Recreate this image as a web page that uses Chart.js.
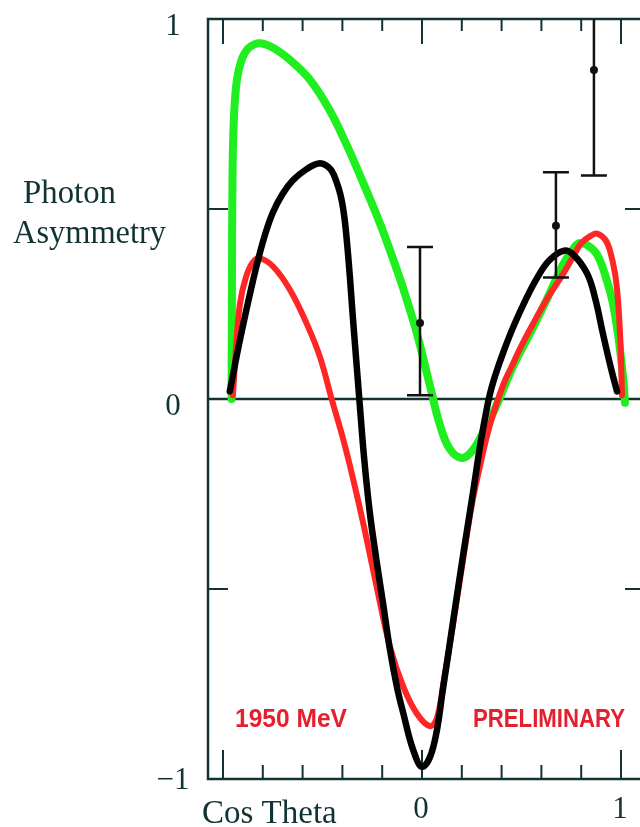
<!DOCTYPE html>
<html>
<head>
<meta charset="utf-8">
<script src="https://cdn.jsdelivr.net/npm/chart.js@4.4.1/dist/chart.umd.min.js"></script>
<style>
  html, body { margin: 0; padding: 0; background: #fff; overflow: hidden; }
  #wrap { width: 640px; height: 827px; overflow: hidden; }
</style>
</head>
<body>
<div id="wrap"><canvas id="asym" width="660" height="827"></canvas></div>
<script>
// curves (cos theta, asymmetry)
const greenCurve = [
  [-0.957, 0.0], [-0.955, 0.3], [-0.952, 0.6], [-0.945, 0.74], [-0.93, 0.84], [-0.905, 0.895],
  [-0.875, 0.922], [-0.84, 0.934], [-0.81, 0.936], [-0.77, 0.93], [-0.72, 0.915], [-0.663, 0.892],
  [-0.563, 0.84], [-0.462, 0.758], [-0.378, 0.668], [-0.295, 0.568], [-0.211, 0.462], [-0.152, 0.378],
  [-0.094, 0.29], [-0.027, 0.175], [0.04, 0.035], [0.09, -0.068], [0.14, -0.132], [0.20, -0.155],
  [0.25, -0.138], [0.30, -0.095], [0.357, -0.037], [0.40, 0.015], [0.457, 0.085], [0.55, 0.18],
  [0.63, 0.265], [0.71, 0.355], [0.76, 0.395], [0.79, 0.41], [0.83, 0.405], [0.88, 0.38],
  [0.93, 0.31], [0.96, 0.25], [0.99, 0.15], [1.01, 0.06], [1.02, -0.01]
];
const redCurve = [
  [-0.95, 0.01], [-0.935, 0.13], [-0.915, 0.25], [-0.885, 0.32], [-0.85, 0.36], [-0.814, 0.37],
  [-0.747, 0.348], [-0.663, 0.287], [-0.58, 0.199], [-0.513, 0.111], [-0.454, 0.0], [-0.395, -0.108],
  [-0.345, -0.213], [-0.29, -0.34], [-0.228, -0.494], [-0.161, -0.652], [-0.094, -0.757], [-0.027, -0.827],
  [0.04, -0.861], [0.075, -0.84], [0.11, -0.74], [0.16, -0.58], [0.21, -0.41], [0.25, -0.28],
  [0.29, -0.18], [0.33, -0.09], [0.37, -0.02], [0.41, 0.04], [0.45, 0.085], [0.49, 0.13],
  [0.55, 0.19], [0.63, 0.265], [0.71, 0.33], [0.76, 0.375], [0.80, 0.41], [0.85, 0.43],
  [0.88, 0.435], [0.92, 0.42], [0.945, 0.39], [0.97, 0.33], [0.985, 0.26], [0.997, 0.15],
  [1.005, 0.01]
];
const blackCurve = [
  [-0.966, 0.02], [-0.915, 0.155], [-0.85, 0.31], [-0.797, 0.418], [-0.75, 0.49], [-0.70, 0.54],
  [-0.65, 0.575], [-0.58, 0.605], [-0.518, 0.62], [-0.47, 0.61], [-0.443, 0.59], [-0.404, 0.524],
  [-0.378, 0.418], [-0.345, 0.199], [-0.315, 0.0], [-0.29, -0.16], [-0.262, -0.30], [-0.23, -0.42],
  [-0.195, -0.54], [-0.161, -0.66], [-0.125, -0.76], [-0.094, -0.827], [-0.044, -0.924], [0.003, -0.968],
  [0.057, -0.915], [0.107, -0.757], [0.157, -0.582], [0.208, -0.406], [0.258, -0.24], [0.291, -0.126],
  [0.315, -0.055], [0.34, 0.01], [0.37, 0.065], [0.41, 0.125], [0.459, 0.19], [0.52, 0.26],
  [0.58, 0.32], [0.64, 0.365], [0.71, 0.39], [0.76, 0.38], [0.83, 0.33], [0.87, 0.265],
  [0.91, 0.17], [0.95, 0.08], [0.98, 0.02]
];

// measured points with error bars
const dataX = [-0.01, 0.673, 0.864];
const dataY = [0.20, 0.456, 0.866];
const dataLow = [0.01, 0.32, 0.588];
const dataHigh = [0.40, 0.597, 1.144];

// axis ticks and labels
const xMajor = [-1, 0, 1];
const xMinor = [-0.8, -0.6, -0.4, -0.2, 0.2, 0.4, 0.6, 0.8];
const xLabels = [[0, '0'], [1, '1']];
const yMid = [-0.5, 0.5];
const yLabels = [[1, '1'], [0, '0'], [-1, '\u22121']];

const ink = '#113333';
const toXY = arr => arr.map(p => ({ x: p[0], y: p[1] }));

const framePlugin = {
  id: 'frame',
  beforeDatasetsDraw(chart) {
    const { ctx, chartArea: a, scales: { x, y } } = chart;
    ctx.save();
    ctx.strokeStyle = ink;
    ctx.lineWidth = 2.5;
    ctx.beginPath();
    ctx.moveTo(a.right, a.top); ctx.lineTo(a.left, a.top);
    ctx.lineTo(a.left, a.bottom); ctx.lineTo(a.right, a.bottom);
    ctx.stroke();
    // zero line
    ctx.beginPath();
    ctx.moveTo(a.left, y.getPixelForValue(0));
    ctx.lineTo(a.right, y.getPixelForValue(0));
    ctx.stroke();
    ctx.lineWidth = 2;
    ctx.beginPath();
    xMajor.forEach(v => {
      const px = x.getPixelForValue(v);
      ctx.moveTo(px, a.bottom); ctx.lineTo(px, a.bottom - 29);
      ctx.moveTo(px, a.top); ctx.lineTo(px, a.top + 25);
    });
    xMinor.forEach(v => {
      const px = x.getPixelForValue(v);
      ctx.moveTo(px, a.bottom); ctx.lineTo(px, a.bottom - 14);
      ctx.moveTo(px, a.top); ctx.lineTo(px, a.top + 12);
    });
    yMid.forEach(v => {
      const py = y.getPixelForValue(v);
      ctx.moveTo(a.left, py); ctx.lineTo(a.left + 20, py);
      ctx.moveTo(a.right, py); ctx.lineTo(a.right - 20, py);
    });
    ctx.stroke();

    // tick labels
    ctx.fillStyle = ink;
    ctx.font = '31px "Liberation Serif", "DejaVu Serif", serif';
    ctx.textAlign = 'center';
    ctx.textBaseline = 'middle';
    yLabels.forEach(([v, t]) => {
      ctx.fillText(t, 173, Math.min(y.getPixelForValue(v) + 8, 781));
    });
    xLabels.forEach(([v, t]) => {
      ctx.fillText(t, x.getPixelForValue(v) - 1, 810);
    });
    ctx.font = '33px "Liberation Serif", "DejaVu Serif", serif';
    ctx.textAlign = 'left';
    ctx.textBaseline = 'alphabetic';
    ctx.fillText('Photon', 23, 203, 93);
    ctx.fillText('Asymmetry', 13, 243, 153);
    ctx.fillText('Cos Theta', 202, 823, 136);

    ctx.fillStyle = '#e5202e';
    ctx.font = 'bold 25px "Liberation Sans", Arial, sans-serif';
    ctx.fillText('1950 MeV', 235, 727, 112);
    ctx.fillText('PRELIMINARY', 473, 727, 152);
    ctx.restore();
  },
  afterDatasetsDraw(chart) {
    const { ctx, chartArea: a, scales: { x, y } } = chart;
    ctx.save();
    ctx.beginPath();
    ctx.rect(a.left, a.top, a.right - a.left, a.bottom - a.top);
    ctx.clip();
    ctx.strokeStyle = '#111';
    ctx.lineWidth = 2.5;
    ctx.beginPath();
    dataX.forEach((v, i) => {
      const px = x.getPixelForValue(v);
      const lo = y.getPixelForValue(dataLow[i]);
      const hi = y.getPixelForValue(dataHigh[i]);
      ctx.moveTo(px, lo); ctx.lineTo(px, hi);
      ctx.moveTo(px - 13, lo); ctx.lineTo(px + 13, lo);
      ctx.moveTo(px - 13, hi); ctx.lineTo(px + 13, hi);
    });
    ctx.stroke();
    ctx.restore();
  }
};

const lineStyle = (color, width, order) => ({
  showLine: true,
  borderColor: color,
  borderWidth: width,
  pointRadius: 0,
  fill: false,
  tension: 0.4,
  borderCapStyle: 'round',
  borderJoinStyle: 'round',
  order: order
});

new Chart(document.getElementById('asym'), {
  type: 'scatter',
  data: {
    datasets: [
      Object.assign({ label: 'points', data: dataX.map((v, i) => ({ x: v, y: dataY[i] })),
        pointRadius: 4, pointBackgroundColor: '#111', pointBorderWidth: 0, order: 0 }),
      Object.assign({ label: 'black', data: toXY(blackCurve) }, lineStyle('#000', 6.5, 1)),
      Object.assign({ label: 'red', data: toXY(redCurve) }, lineStyle('#ff2626', 6, 2)),
      Object.assign({ label: 'green', data: toXY(greenCurve) }, lineStyle('#1fee1f', 8, 3))
    ]
  },
  options: {
    responsive: false,
    animation: false,
    devicePixelRatio: 1,
    layout: { padding: { left: 208, top: 19, right: 15, bottom: 48 } },
    plugins: { legend: { display: false }, tooltip: { enabled: false } },
    scales: {
      x: { type: 'linear', display: false, min: (208 - 422) / 199, max: (645 - 422) / 199 },
      y: { type: 'linear', display: false, min: -1, max: 1 }
    }
  },
  plugins: [framePlugin]
});
</script>
</body>
</html>
